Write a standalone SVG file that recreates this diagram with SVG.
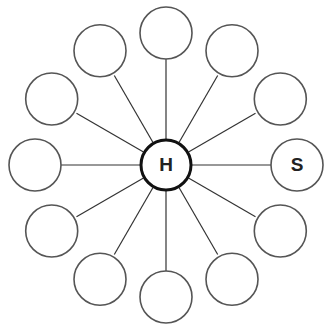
<svg xmlns="http://www.w3.org/2000/svg" width="327" height="327" viewBox="0 0 327 327">
<style>
.o{fill:#fff;stroke:#555;stroke-width:1.6}
.c{fill:#fff;stroke:#111;stroke-width:3}
.l{stroke:#333;stroke-width:1.2}
.t{font-family:"Liberation Sans",Arial,sans-serif;font-weight:bold;font-size:19px;fill:#222;text-anchor:middle}
</style>
<rect width="327" height="327" fill="#fff"/>
<g id="connectors">
<line class="l" x1="192" y1="165" x2="271" y2="165"/>
<line class="l" x1="188.5" y1="152" x2="255.5" y2="113.3"/>
<line class="l" x1="179" y1="142.5" x2="217.7" y2="75.5"/>
<line class="l" x1="166" y1="139" x2="166" y2="59"/>
<line class="l" x1="153" y1="142.5" x2="114.3" y2="75.5"/>
<line class="l" x1="143.5" y1="152" x2="76.5" y2="113.3"/>
<line class="l" x1="140" y1="165" x2="61" y2="165"/>
<line class="l" x1="143.5" y1="178" x2="76.5" y2="216.7"/>
<line class="l" x1="153" y1="187.5" x2="114.3" y2="254.5"/>
<line class="l" x1="166" y1="191" x2="166" y2="271"/>
<line class="l" x1="179" y1="187.5" x2="217.7" y2="254.5"/>
<line class="l" x1="188.5" y1="178" x2="255.5" y2="216.7"/>
</g>
<g id="S"><circle class="o" cx="297" cy="165" r="26"/><text class="t" x="297" y="170.5">S</text></g>
<g id="n30"><circle class="o" cx="280.3" cy="99" r="26"/></g>
<g id="n60"><circle class="o" cx="232" cy="50.7" r="26"/></g>
<g id="n90"><circle class="o" cx="166" cy="33" r="26"/></g>
<g id="n120"><circle class="o" cx="100" cy="50.7" r="26"/></g>
<g id="n150"><circle class="o" cx="51.7" cy="99" r="26"/></g>
<g id="n180"><circle class="o" cx="35" cy="165" r="26"/></g>
<g id="n210"><circle class="o" cx="51.7" cy="231" r="26"/></g>
<g id="n240"><circle class="o" cx="100" cy="279.3" r="26"/></g>
<g id="n270"><circle class="o" cx="166" cy="297" r="26"/></g>
<g id="n300"><circle class="o" cx="232" cy="279.3" r="26"/></g>
<g id="n330"><circle class="o" cx="280.3" cy="231" r="26"/></g>
<g id="H"><circle class="c" cx="166" cy="165" r="25"/><text class="t" x="166" y="171">H</text></g>
</svg>
